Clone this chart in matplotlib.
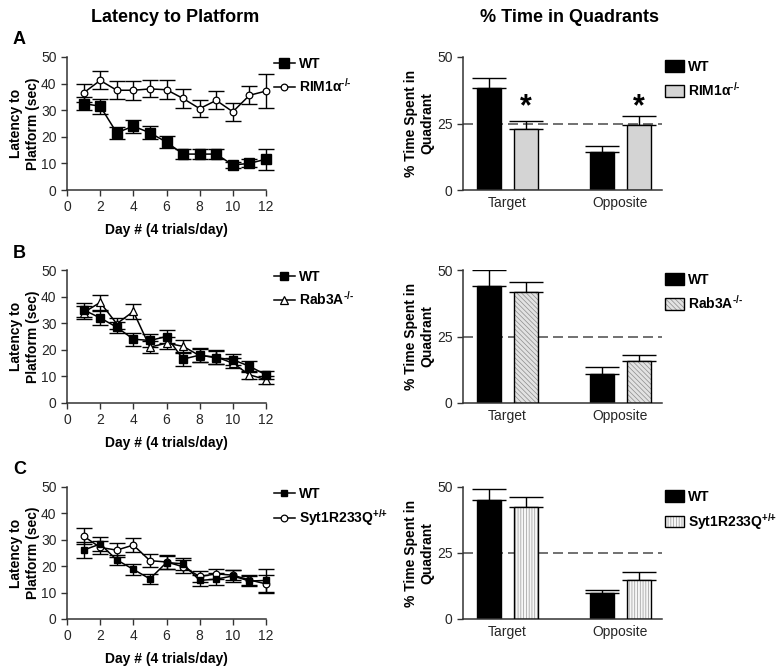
import numpy as np
import matplotlib
matplotlib.use('Agg')
import matplotlib.pyplot as plt

plt.rcParams['font.family'] = ['Liberation Sans', 'DejaVu Sans']
plt.rcParams['mathtext.fontset'] = 'custom'
plt.rcParams['mathtext.rm'] = 'Liberation Sans:bold'
plt.rcParams['mathtext.default'] = 'rm'
plt.rcParams['hatch.linewidth'] = 0.5

days = np.arange(1, 13)

# latency to platform (sec): mean and SEM per day
a_wt = [32.5, 31.5, 21.5, 24.0, 21.5, 18.0, 13.5, 13.5, 13.5, 9.4, 10.0, 11.6]
a_wt_err = [2.6, 2.8, 2.2, 2.5, 2.5, 2.2, 2.0, 2.0, 2.0, 1.0, 1.5, 4.0]
a_ko = [36.5, 41.2, 37.5, 37.5, 38.0, 37.7, 34.4, 30.6, 33.7, 29.4, 35.6, 37.2]
a_ko_err = [3.4, 3.4, 3.4, 3.6, 3.2, 3.5, 3.4, 3.3, 3.4, 3.4, 3.4, 6.5]

b_wt = [35.0, 32.0, 28.5, 24.0, 23.5, 25.0, 16.5, 18.0, 17.0, 16.3, 13.8, 10.6]
b_wt_err = [2.5, 2.5, 2.0, 2.5, 2.5, 2.5, 2.5, 2.5, 2.5, 2.0, 2.0, 1.5]
b_ko = [34.0, 37.8, 29.8, 34.4, 21.0, 22.5, 21.3, 17.8, 17.3, 15.0, 10.6, 8.8]
b_ko_err = [2.5, 2.8, 2.0, 3.0, 2.2, 2.2, 2.5, 2.5, 2.5, 2.0, 1.5, 1.5]

c_wt = [26.1, 28.4, 22.4, 18.8, 15.2, 21.4, 20.9, 14.6, 15.1, 16.3, 14.4, 14.6]
c_wt_err = [3.0, 2.5, 2.0, 2.2, 2.0, 2.5, 2.2, 2.2, 2.2, 2.2, 2.0, 4.5]
c_ko = [31.4, 27.1, 26.1, 28.0, 22.1, 21.6, 19.8, 16.1, 17.1, 16.6, 14.8, 13.3]
c_ko_err = [3.0, 2.5, 2.8, 2.8, 2.5, 2.5, 2.5, 2.0, 2.0, 2.0, 2.0, 3.5]

# % time spent in quadrant: [Target, Opposite]
quadrants = ['Target', 'Opposite']
qa_wt, qa_wt_err = [38.4, 14.1], [3.7, 2.5]
qa_ko, qa_ko_err = [23.1, 24.4], [2.9, 3.4]
qb_wt, qb_wt_err = [43.8, 11.0], [6.2, 2.5]
qb_ko, qb_ko_err = [41.6, 15.9], [4.0, 2.1]
qc_wt, qc_wt_err = [45.0, 9.8], [4.4, 1.3]
qc_ko, qc_ko_err = [42.5, 14.6], [3.7, 3.1]
star_y = 31.0

ko_names = ['RIM1$\\alpha^{\\text{-/-}}$', 'Rab3A$^{\\text{-/-}}$',
            'Syt1R233Q$^{\\text{+/+}}$']

W, H = 781, 669
fig = plt.figure(figsize=(W / 100, H / 100), dpi=100)


def add_ax(x0, x1, y0, y1):
    return fig.add_axes([x0 / W, 1 - y1 / H, (x1 - x0) / W, (y1 - y0) / H])


def style(ax):
    for s in ['top', 'right']:
        ax.spines[s].set_visible(False)
    for s in ['left', 'bottom']:
        ax.spines[s].set_linewidth(1.1)
        ax.spines[s].set_color('0.2')
    ax.tick_params(labelsize=10, width=1.0, length=4, color='0.2',
                   labelcolor='0.15')


rows = [(57, 190), (270, 403), (487, 619)]
lat = [(a_wt, a_wt_err, a_ko, a_ko_err, 'o', 6.5, 4.8),
       (b_wt, b_wt_err, b_ko, b_ko_err, '^', 5.2, 5.2),
       (c_wt, c_wt_err, c_ko, c_ko_err, 'o', 5.0, 4.8)]
quad = [(qa_wt, qa_wt_err, qa_ko, qa_ko_err),
        (qb_wt, qb_wt_err, qb_ko, qb_ko_err),
        (qc_wt, qc_wt_err, qc_ko, qc_ko_err)]
ko_fill = [dict(color='#d4d4d4', hatch=None, hc='0.6'),
           dict(color='#e2e2e2', hatch='\\\\\\\\\\\\\\', hc='0.55'),
           dict(color='#f6f6f6', hatch='||||||', hc='0.6')]
letters = ['A', 'B', 'C']

for i, (top, bot) in enumerate(rows):
    # latency panel
    wt, wt_e, ko, ko_e, mk, ms_wt, ms_ko = lat[i]
    ax = add_ax(67, 266, top, bot)
    style(ax)
    ax.errorbar(days, ko, yerr=ko_e, fmt='none', ecolor='k', elinewidth=1.0,
                capsize=6, capthick=1.0, clip_on=False, zorder=2)
    ax.errorbar(days, wt, yerr=wt_e, fmt='none', ecolor='k', elinewidth=1.0,
                capsize=6, capthick=1.0, clip_on=False, zorder=2)
    ax.plot(days, ko, color='k', lw=1.1, marker=mk, ms=ms_ko, mfc='white',
            mec='k', mew=0.9, clip_on=False, zorder=3, label=ko_names[i])
    ax.plot(days, wt, color='k', lw=1.1, marker='s', ms=ms_wt, mfc='k',
            mec='k', clip_on=False, zorder=4, label='WT')
    ax.set_xlim(0, 12)
    ax.set_ylim(0, 50)
    ax.set_xticks(range(0, 13, 2))
    ax.set_yticks(range(0, 51, 10))
    ax.set_ylabel('Latency to\nPlatform (sec)', fontsize=10, fontweight='bold',
                  labelpad=1)
    ax.set_xlabel('Day # (4 trials/day)', fontsize=10, fontweight='bold',
                  labelpad=6)
    h, l = ax.get_legend_handles_labels()
    ax.legend(h[::-1], l[::-1], loc='upper left', bbox_to_anchor=(1.04, 1.0),
              frameon=False, handlelength=1.5, handletextpad=0.3,
              labelspacing=0.45, borderaxespad=0, borderpad=0,
              prop=dict(size=10, weight='bold'))
    fig.text(13 / W, 1 - (40 + (top - 57)) / H, letters[i], fontsize=13,
             fontweight='bold', va='center', ha='left')

    # quadrant panel
    qwt, qwt_e, qko, qko_e = quad[i]
    ax2 = add_ax(463, 662, top, bot)
    style(ax2)
    centers = np.array([1.0, 4.0])
    off, bw = 0.49, 0.64
    ax2.axhline(25, color='0.35', lw=1.2, ls=(0, (6, 3)), zorder=0)
    ax2.bar(centers - off, qwt, bw, color='k', edgecolor='k', lw=1.0,
            zorder=2, label='WT')
    f = ko_fill[i]
    if f['hatch']:
        hb = ax2.bar(centers + off, qko, bw, color=f['color'], edgecolor=f['hc'],
                     lw=0, hatch=f['hatch'], zorder=2)
        ob = ax2.bar(centers + off, qko, bw, fill=False, edgecolor='k', lw=1.0,
                     zorder=3)
        ko_handle = (hb, ob)
    else:
        ko_handle = ax2.bar(centers + off, qko, bw, color=f['color'],
                            edgecolor='k', lw=1.0, zorder=2)
    ax2.errorbar(centers - off, qwt, yerr=[np.zeros(2), qwt_e], fmt='none',
                 ecolor='k', elinewidth=1.0, capsize=12, capthick=1.0, zorder=1)
    ax2.errorbar(centers + off, qko, yerr=[np.zeros(2), qko_e], fmt='none',
                 ecolor='k', elinewidth=1.0, capsize=12, capthick=1.0, zorder=1)
    if i == 0:
        for cx in centers + off:
            ax2.text(cx, star_y, '*', ha='center', va='center', fontsize=22,
                     fontweight='bold')
    ax2.set_xlim(-0.17, 5.1)
    ax2.set_ylim(0, 50)
    ax2.set_yticks([0, 25, 50])
    ax2.set_xticks(centers)
    ax2.set_xticklabels(quadrants)
    ax2.tick_params(axis='x', length=0, pad=4)
    ax2.set_ylabel('% Time Spent in\nQuadrant', fontsize=10, fontweight='bold',
                   labelpad=2)
    wt_handle = ax2.containers[0]
    ax2.legend([wt_handle, ko_handle], ['WT', ko_names[i]], loc='upper left',
               bbox_to_anchor=(1.0, 1.0), frameon=False, handlelength=1.4,
               handleheight=0.9, handletextpad=0.25, labelspacing=0.5,
               borderaxespad=0, borderpad=0.2, prop=dict(size=10, weight='bold'))

fig.text(175 / W, 1 - 17 / H, 'Latency to Platform', fontsize=13,
         fontweight='bold', ha='center', va='center')
fig.text(569 / W, 1 - 17 / H, '% Time in Quadrants', fontsize=13,
         fontweight='bold', ha='center', va='center')

fig.savefig('out.png', dpi=100)
